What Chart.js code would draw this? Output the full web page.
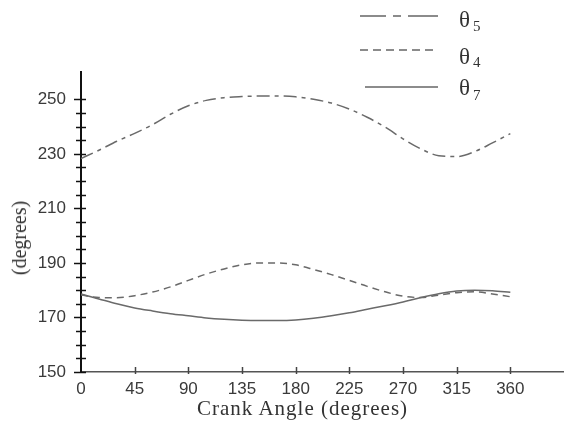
<!DOCTYPE html>
<html>
<head>
<meta charset="utf-8">
<script src="https://cdn.jsdelivr.net/npm/chart.js@4/dist/chart.umd.min.js"></script>
<style>
  html, body { margin: 0; padding: 0; background: #fff; }
  #wrap { position: relative; width: 564px; height: 422px; overflow: hidden; background: #fff; }
  #c { position: absolute; left: 0; top: 0; }
  .t { position: absolute; line-height: 1; white-space: nowrap; color: #333; font-family: "Liberation Serif", "Times New Roman", serif; }
  .leg { position: absolute; }
</style>
</head>
<body>
<div id="wrap">
  <canvas id="c" width="564" height="422"></canvas>

  <svg class="leg" style="left:356px;top:8px" width="86" height="16"><line x1="4" y1="8" x2="82" y2="8" stroke="#666" stroke-width="1.6" stroke-dasharray="26 7 8 7 40"/></svg>
  <span class="t" style="left:459px;top:8px;font-size:23px">θ</span><span class="t" style="left:473px;top:19px;font-size:15px">5</span>

  <svg class="leg" style="left:356px;top:42px" width="86" height="16"><line x1="4" y1="8" x2="82" y2="8" stroke="#666" stroke-width="1.6" stroke-dasharray="8 5"/></svg>
  <span class="t" style="left:459px;top:45px;font-size:23px">θ</span><span class="t" style="left:473px;top:55px;font-size:15px">4</span>

  <svg class="leg" style="left:356px;top:79px" width="86" height="16"><line x1="9" y1="8" x2="82" y2="8" stroke="#666" stroke-width="1.6"/></svg>
  <span class="t" style="left:459px;top:76px;font-size:23px">θ</span><span class="t" style="left:473px;top:88px;font-size:15px">7</span>

  <span class="t" style="left:197px;top:398px;font-size:21px;letter-spacing:1px">Crank Angle (degrees)</span>
  <span class="t" id="ytitle" style="left:19px;top:238px;font-size:20px;transform:translate(-50%,-50%) rotate(-90deg);transform-origin:center">(degrees)</span>
</div>
<script>
// ---- data ----
const angles = [0,15,30,45,60,75,90,105,120,135,150,165,180,195,210,225,240,255,270,285,300,315,330,345,360];
const theta5 = [228.3,231.3,234.6,237.5,240.7,244.5,247.6,249.6,250.6,251.0,251.2,251.2,250.9,250.0,248.6,246.4,243.4,239.8,235.5,231.8,229.3,229.0,230.8,234.0,237.4];
const theta4 = [178.2,177.3,177.2,178.0,179.3,181.2,183.6,185.9,187.8,189.3,190.0,190.0,189.3,187.6,185.7,183.6,181.4,179.4,177.8,177.3,178.2,179.1,179.4,178.6,177.6];
const theta7 = [178.6,176.8,175.0,173.5,172.4,171.4,170.6,169.8,169.3,169.0,168.9,168.9,169.1,169.7,170.6,171.7,173.0,174.3,175.7,177.3,178.7,179.7,180.0,179.8,179.2];
const xTickLabels = [0,45,90,135,180,225,270,315,360];
const yTickLabels = [150,170,190,210,230,250];
const yMinorTicks = [150,155,160,165,170,175,180,185,190,195,200,205,210,215,220,225,230,235,240,245,250];

const lineColor = '#6a6a6a';
const toPts = arr => angles.map((a, i) => ({ x: a, y: arr[i] }));

const crossTicks = {
  id: 'crossTicks',
  afterDraw(chart) {
    const ctx = chart.ctx;
    const xs = chart.scales.x, ys = chart.scales.y;
    const left = chart.chartArea.left, bottom = chart.chartArea.bottom;
    ctx.save();
    ctx.strokeStyle = '#111';
    ctx.lineWidth = 1.5;
    yMinorTicks.forEach(v => {
      const py = Math.round(ys.getPixelForValue(v)) + 0.5;
      const major = yTickLabels.includes(v);
      ctx.beginPath();
      ctx.moveTo(left - (major ? 7 : 5), py);
      ctx.lineTo(left + 5, py);
      ctx.stroke();
    });
    ctx.strokeStyle = '#444';
    xTickLabels.forEach(v => {
      if (v === 0) return;
      const px = Math.round(xs.getPixelForValue(v)) + 0.5;
      ctx.beginPath();
      ctx.moveTo(px, bottom - 5);
      ctx.lineTo(px, bottom + 2);
      ctx.stroke();
    });
    ctx.restore();
  }
};

Chart.defaults.font.family = '"Liberation Sans", Arial, sans-serif';
Chart.defaults.color = '#3a3a3a';

new Chart(document.getElementById('c'), {
  type: 'line',
  data: {
    datasets: [
      { label: 'θ5', data: toPts(theta5), borderColor: lineColor, borderWidth: 1.5, borderDash: [13, 5, 4, 5], pointRadius: 0, cubicInterpolationMode: 'monotone', fill: false },
      { label: 'θ4', data: toPts(theta4), borderColor: lineColor, borderWidth: 1.5, borderDash: [7, 5], pointRadius: 0, cubicInterpolationMode: 'monotone', fill: false },
      { label: 'θ7', data: toPts(theta7), borderColor: lineColor, borderWidth: 1.5, pointRadius: 0, cubicInterpolationMode: 'monotone', fill: false }
    ]
  },
  options: {
    responsive: false,
    animation: false,
    events: [],
    layout: { padding: { left: 0, right: 0, top: 72, bottom: 0 } },
    plugins: { legend: { display: false }, tooltip: { enabled: false } },
    scales: {
      x: {
        type: 'linear', min: 0, max: 405,
        afterBuildTicks: s => { s.ticks = xTickLabels.map(v => ({ value: v })); },
        afterFit: s => { s.height = 50; },
        grid: { display: false, drawTicks: false },
        border: { display: true, color: '#555', width: 1.5 },
        ticks: { autoSkip: false, maxRotation: 0, padding: 7, font: { size: 17 }, callback: v => String(v) }
      },
      y: {
        type: 'linear', min: 150, max: 260,
        afterBuildTicks: s => { s.ticks = yMinorTicks.map(v => ({ value: v })); },
        afterFit: s => { s.width = 81; },
        grid: { display: false, drawTicks: false },
        border: { display: true, color: '#111', width: 2 },
        ticks: { autoSkip: false, padding: 15, font: { size: 17 }, callback: v => yTickLabels.includes(v) ? String(v) : '' }
      }
    }
  },
  plugins: [crossTicks]
});
</script>
</body>
</html>
